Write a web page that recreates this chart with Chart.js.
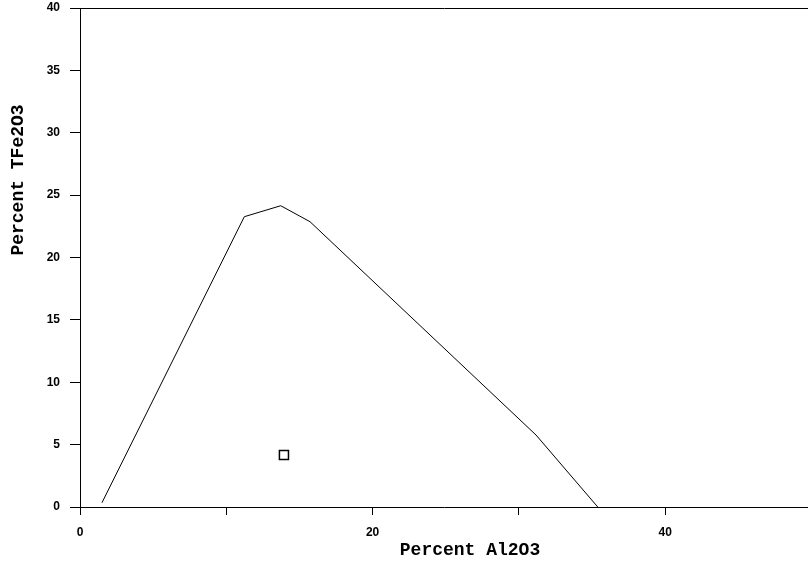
<!DOCTYPE html>
<html lang="en">
<head>
  <meta charset="UTF-8">
  <title>Percent TFe2O3 vs Percent Al2O3</title>
  <style>
    html, body { margin: 0; padding: 0; background: #fff; }
    #wrap { width: 808px; height: 563px; }
  </style>
</head>
<body>
  <div id="wrap"><canvas id="myChart" width="808" height="563"></canvas></div>
  <script src="https://cdn.jsdelivr.net/npm/chart.js"></script>
  <script>
    // boundary line
    const lineAl2O3 = [1.50, 11.23, 13.72, 15.72, 31.17, 35.39]
    const lineTFe2O3 = [0.34, 23.27, 24.15, 22.87, 5.77, 0.0]

    // the single sample
    const sampleAl2O3 = [13.94]
    const sampleTFe2O3 = [4.17]

    const xTicks = [0, 10, 20, 30, 40]
    const xLabels = [0, 20, 40]
    const yTicks = [0, 5, 10, 15, 20, 25, 30, 35, 40]

    const xTitle = 'Percent Al2O3'
    const yTitle = 'Percent TFe2O3'

    const tickFont = { family: 'Liberation Sans', size: 12, weight: 'bold' }

    // axis titles sit off-centre in the original, so they are drawn here
    const titles = {
      id: 'titles',
      afterDraw(chart) {
        const c = chart.ctx
        c.save()
        c.fillStyle = '#000'
        c.font = 'bold 18px "Liberation Mono"'
        c.textAlign = 'center'
        c.textBaseline = 'middle'
        c.fillText(xTitle, 470, 550)
        c.translate(18, 180)
        c.rotate(-Math.PI / 2)
        c.fillText(yTitle, 0, 0)
        c.restore()
      }
    }

    const noPad = s => {
      s.paddingLeft = 0
      s.paddingRight = 0
      s.paddingTop = 0
      s.paddingBottom = 0
    }

    const ctx = document.getElementById('myChart')

    new Chart(ctx, {
      type: 'scatter',
      data: {
        datasets: [
          {
            data: lineAl2O3.map((x, i) => ({ x: x, y: lineTFe2O3[i] })),
            showLine: true,
            borderColor: '#000',
            borderWidth: 1,
            pointRadius: 0,
            fill: false
          },
          {
            data: sampleAl2O3.map((x, i) => ({ x: x, y: sampleTFe2O3[i] })),
            pointStyle: 'rect',
            pointRadius: 6.4,
            borderColor: '#000',
            backgroundColor: '#fff',
            borderWidth: 1.5
          }
        ]
      },
      options: {
        responsive: false,
        animation: false,
        layout: { autoPadding: false, padding: { top: 8, right: 0, left: 0, bottom: 0 } },
        plugins: {
          legend: { display: false },
          tooltip: { enabled: false }
        },
        scales: {
          x: {
            type: 'linear',
            min: 0,
            max: 49.76,
            afterFit: s => { s.height = 56; noPad(s) },
            afterBuildTicks: s => { s.ticks = xTicks.map(v => ({ value: v })) },
            grid: { drawOnChartArea: false, tickLength: 8, color: '#000' },
            border: { display: true, color: '#000', width: 1 },
            ticks: {
              padding: 10,
              color: '#000',
              font: tickFont,
              maxRotation: 0,
              autoSkip: false,
              callback: v => xLabels.includes(v) ? String(v) : ''
            }
          },
          x2: {
            type: 'linear',
            position: 'top',
            min: 0,
            max: 49.76,
            afterFit: s => { s.height = 0; noPad(s) },
            grid: { display: false },
            ticks: { display: false },
            border: { display: true, color: '#000', width: 1 }
          },
          y: {
            type: 'linear',
            min: 0,
            max: 40,
            afterFit: s => { s.width = 80; noPad(s) },
            afterBuildTicks: s => { s.ticks = yTicks.map(v => ({ value: v })) },
            grid: { drawOnChartArea: false, tickLength: 10, color: '#000' },
            border: { display: true, color: '#000', width: 1 },
            ticks: {
              padding: 10,
              color: '#000',
              font: tickFont
            }
          }
        }
      },
      plugins: [titles]
    })
  </script>
</body>
</html>
